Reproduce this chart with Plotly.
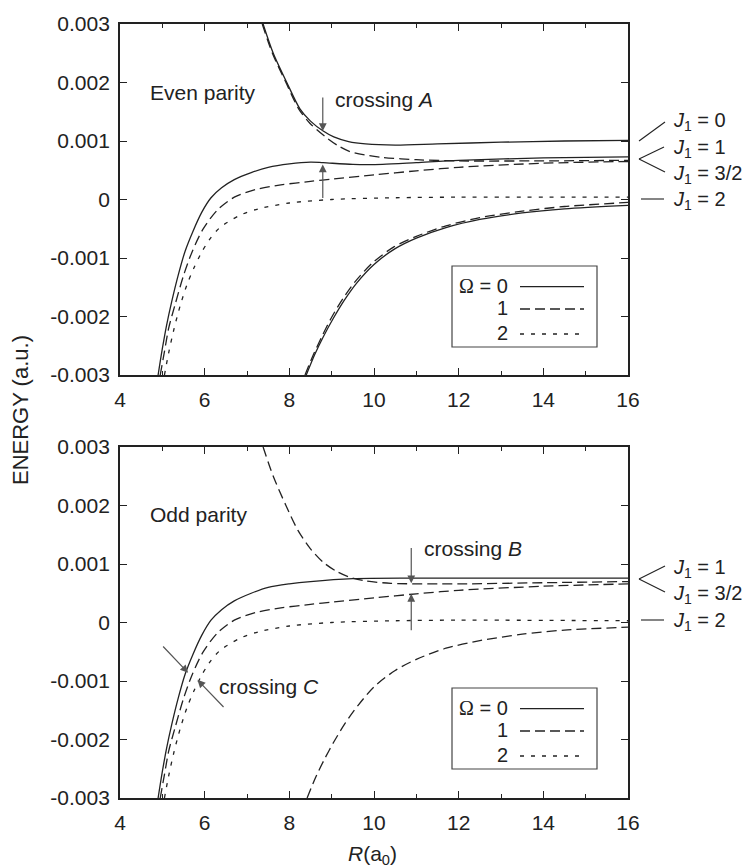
import plotly.graph_objects as go

# ---------------- data ----------------
# Even parity (top panel)
even_s_up_R = [7.38, 7.62, 7.94, 8.25, 8.5, 8.8, 9.05, 9.4, 9.8, 10.5, 11.5, 13.0, 14.5, 16.0]
even_s_up_E = [0.0030, 0.0025, 0.0020, 0.00155, 0.00134, 0.00117, 0.00107, 0.00099, 0.00095, 0.00093, 0.00095, 0.00098, 0.00100, 0.00101]

even_d_up_R = [7.36, 7.6, 7.92, 8.22, 8.49, 8.89, 9.15, 9.43, 9.8, 10.2, 11.0, 12.0, 14.0, 16.0]
even_d_up_E = [0.0030, 0.0025, 0.0020, 0.00155, 0.00130, 0.00105, 0.00092, 0.00082, 0.00076, 0.00072, 0.00068, 0.00066, 0.00066, 0.00067]

even_s_mid_R = [4.9, 5.0, 5.1, 5.22, 5.38, 5.54, 5.72, 5.93, 6.15, 6.4, 6.7, 7.1, 7.5, 8.0, 8.5, 8.8, 9.5, 10.2, 11.0, 12.0, 14.0, 16.0]
even_s_mid_E = [-0.0030, -0.00255, -0.00215, -0.00175, -0.00128, -0.00088, -0.00055, -0.00022, 0.00003, 0.0002, 0.00034, 0.00046, 0.00055, 0.00061, 0.00064, 0.00063, 0.00060, 0.00060, 0.00063, 0.00067, 0.00071, 0.00073]

even_d_mid_R = [4.95, 5.05, 5.15, 5.3, 5.5, 5.7, 5.95, 6.3, 6.7, 7.2, 7.8, 8.5, 9.0, 10.0, 11.0, 12.0, 14.0, 16.0]
even_d_mid_E = [-0.0030, -0.0026, -0.0022, -0.0018, -0.0013, -0.0009, -0.00052, -0.00018, 0.00004, 0.00017, 0.00025, 0.00031, 0.00035, 0.00042, 0.00049, 0.00055, 0.00062, 0.00065]

even_dot_R = [5.05, 5.15, 5.28, 5.42, 5.58, 5.74, 5.9, 6.1, 6.36, 6.83, 7.27, 8.0, 9.0, 10.5, 12.0, 16.0]
even_dot_E = [-0.0030, -0.00262, -0.0022, -0.00182, -0.00146, -0.00118, -0.00094, -0.0007, -0.00048, -0.00027, -0.00016, -0.00006, 0.0, 0.00003, 0.00004, 0.00004]

even_s_low_R = [8.4, 8.6, 8.8, 9.04, 9.3, 9.6, 10.0, 10.5, 11.0, 11.7, 12.5, 13.5, 14.5, 16.0]
even_s_low_E = [-0.0030, -0.00265, -0.00235, -0.00203, -0.00172, -0.00142, -0.00111, -0.00084, -0.00066, -0.00048, -0.00034, -0.00023, -0.00016, -0.00010]

even_d_low_R = [8.37, 8.57, 8.77, 9.01, 9.27, 9.57, 9.97, 10.47, 11.0, 11.7, 12.5, 13.5, 14.5, 16.0]
even_d_low_E = [-0.0030, -0.00265, -0.00234, -0.0020, -0.00169, -0.00139, -0.00108, -0.00081, -0.00063, -0.00045, -0.00031, -0.0002, -0.00012, -0.00005]

# Odd parity (bottom panel)
odd_d_up_R = [7.38, 7.62, 7.92, 8.2, 8.5, 8.8, 9.1, 9.4, 9.8, 10.4, 12.0, 14.0, 16.0]
odd_d_up_E = [0.0030, 0.0025, 0.0020, 0.00158, 0.00126, 0.00103, 0.00088, 0.00078, 0.00071, 0.00067, 0.00066, 0.00068, 0.00070]

odd_s_R = [4.9, 5.0, 5.1, 5.22, 5.38, 5.54, 5.72, 5.93, 6.15, 6.4, 6.7, 7.1, 7.5, 8.0, 8.5, 9.5, 11.0, 16.0]
odd_s_E = [-0.0030, -0.00255, -0.00215, -0.00175, -0.00128, -0.00088, -0.00055, -0.00022, 0.00004, 0.00022, 0.00037, 0.00050, 0.00060, 0.00066, 0.00070, 0.00075, 0.00076, 0.00076]

odd_d_mid_R = [4.95, 5.05, 5.15, 5.3, 5.5, 5.7, 5.95, 6.3, 6.7, 7.2, 7.8, 8.5, 9.0, 10.0, 11.0, 12.0, 14.0, 16.0]
odd_d_mid_E = [-0.0030, -0.0026, -0.0022, -0.0018, -0.0013, -0.0009, -0.00052, -0.00018, 0.00004, 0.00017, 0.00025, 0.00031, 0.00035, 0.00042, 0.00049, 0.00055, 0.00062, 0.00066]

odd_dot_R = [5.05, 5.15, 5.28, 5.42, 5.58, 5.74, 5.9, 6.1, 6.36, 6.83, 7.27, 8.0, 9.0, 10.5, 12.0, 16.0]
odd_dot_E = [-0.0030, -0.00262, -0.0022, -0.00182, -0.00146, -0.00118, -0.00094, -0.0007, -0.00048, -0.00027, -0.00016, -0.00006, 0.0, 0.00003, 0.00004, 0.00003]

odd_d_low_R = [8.42, 8.62, 8.82, 9.06, 9.32, 9.62, 10.0, 10.5, 11.0, 11.7, 12.5, 13.5, 14.5, 16.0]
odd_d_low_E = [-0.0030, -0.00265, -0.00235, -0.00203, -0.00172, -0.00142, -0.0011, -0.00082, -0.00063, -0.00044, -0.00031, -0.0002, -0.00013, -0.00008]

x_ticks = [4, 6, 8, 10, 12, 14, 16]
y_ticks = [-0.003, -0.002, -0.001, 0, 0.001, 0.002, 0.003]
y_tick_text = ["-0.003", "-0.002", "-0.001", "0", "0.001", "0.002", "0.003"]

legend_labels = ["<span style=\"font-family:'Liberation Serif',serif\">\u03A9</span> = 0", "1", "2"]
omega_dash = {0: "solid", 1: "10px,5px", 2: "4px,7px"}

j_labels_even = ["0", "1", "3/2", "2"]
j_labels_odd = ["1", "3/2", "2"]

# ---------------- figure ----------------
FONT = "Liberation Sans, Arial, Helvetica, sans-serif"
INK = "#222222"
FS = 21
fig = go.Figure()

def curve(R, E, omega, xa, ya):
    fig.add_trace(go.Scatter(x=R, y=E, mode="lines", xaxis=xa, yaxis=ya,
                             line=dict(color=INK, width=1.3, dash=omega_dash[omega],
                                       shape="spline", smoothing=0.8),
                             showlegend=False, hoverinfo="skip"))

curve(even_s_up_R, even_s_up_E, 0, "x", "y")
curve(even_d_up_R, even_d_up_E, 1, "x", "y")
curve(even_s_mid_R, even_s_mid_E, 0, "x", "y")
curve(even_d_mid_R, even_d_mid_E, 1, "x", "y")
curve(even_dot_R, even_dot_E, 2, "x", "y")
curve(even_s_low_R, even_s_low_E, 0, "x", "y")
curve(even_d_low_R, even_d_low_E, 1, "x", "y")

curve(odd_d_up_R, odd_d_up_E, 1, "x2", "y2")
curve(odd_s_R, odd_s_E, 0, "x2", "y2")
curve(odd_d_mid_R, odd_d_mid_E, 1, "x2", "y2")
curve(odd_dot_R, odd_dot_E, 2, "x2", "y2")
curve(odd_d_low_R, odd_d_low_E, 1, "x2", "y2")

W, H = 742, 867
ML, MR, MT, MB = 120, 114, 24, 69
PW = W - ML - MR
PH = H - MT - MB

def px_x(p):
    return (p - ML) / PW

def px_y(p):
    return (H - MB - p) / PH

xaxis_common = dict(range=[4, 16], tickvals=x_ticks, ticks="inside", ticklen=7, tickwidth=1.3,
                    tickcolor=INK, showline=True, linecolor=INK, linewidth=1.8, mirror="allticks",
                    showgrid=False, zeroline=False, tickfont=dict(size=FS, color=INK, family=FONT),
                    minor=dict(dtick=1, tick0=5, ticks="inside", ticklen=4, tickcolor=INK, tickwidth=1.3),
                    ticklabelstandoff=5)
yaxis_common = dict(range=[-0.003, 0.003], tickvals=y_ticks, ticktext=y_tick_text, ticks="inside",
                    ticklen=7, tickwidth=1.3, tickcolor=INK, showline=True, linecolor=INK, linewidth=1.8,
                    mirror="allticks", showgrid=False, zeroline=False,
                    tickfont=dict(size=FS, color=INK, family=FONT), ticklabelstandoff=4)

top_dom = [px_y(375), px_y(24)]
bot_dom = [px_y(798), px_y(447)]

fig.update_layout(
    width=W, height=H, margin=dict(l=ML, r=MR, t=MT, b=MB),
    paper_bgcolor="white", plot_bgcolor="white", showlegend=False,
    font=dict(family=FONT, color=INK, size=FS),
    xaxis=dict(domain=[0, 1], anchor="y", **xaxis_common),
    yaxis=dict(domain=top_dom, anchor="x", **yaxis_common),
    xaxis2=dict(domain=[0, 1], anchor="y2", **xaxis_common),
    yaxis2=dict(domain=bot_dom, anchor="x2", **yaxis_common),
)

ann = []
shapes = []

# Panel titles
ann.append(dict(x=4.66, y=0.00183, xref="x", yref="y", text="Even parity", showarrow=False,
                xanchor="left", yanchor="middle", font=dict(size=FS)))
ann.append(dict(x=4.66, y=0.00184, xref="x2", yref="y2", text="Odd parity", showarrow=False,
                xanchor="left", yanchor="middle", font=dict(size=FS)))

# crossing labels
ann.append(dict(x=9.04, y=0.00171, xref="x", yref="y", text="crossing <i>A</i>", showarrow=False,
                xanchor="left", yanchor="middle", font=dict(size=FS)))
ann.append(dict(x=11.13, y=0.00127, xref="x2", yref="y2", text="crossing <i>B</i>", showarrow=False,
                xanchor="left", yanchor="middle", font=dict(size=FS)))
ann.append(dict(x=6.30, y=-0.0011, xref="x2", yref="y2", text="crossing <i>C</i>", showarrow=False,
                xanchor="left", yanchor="middle", font=dict(size=FS)))

ARROW = "#555555"
def arrow(xr, yr, tip, tail):
    ann.append(dict(x=tip[0], y=tip[1], ax=tail[0], ay=tail[1], xref=xr, yref=yr, axref=xr, ayref=yr,
                    text="", showarrow=True, arrowhead=2, arrowsize=1.3, arrowwidth=1.2,
                    arrowcolor=ARROW, standoff=0))

arrow("x", "y", (8.79, 0.00117), (8.79, 0.00177))
arrow("x", "y", (8.79, 0.00060), (8.79, 0.0))
arrow("x2", "y2", (10.88, 0.00067), (10.88, 0.00130))
arrow("x2", "y2", (10.88, 0.00049), (10.88, -0.00016))
arrow("x2", "y2", (5.61, -0.00086), (4.985, -0.000385))
arrow("x2", "y2", (5.83, -0.00098), (6.48, -0.00147))

# Legends (drawn by hand so that the sample line sits right of the label)
for (ytop_px, ybot_px, rows_px) in [(266, 347, [285.7, 308.0, 333.0]), (688, 769, [707.7, 730.0, 755.0])]:
    shapes.append(dict(type="rect", xref="paper", yref="paper", x0=px_x(452), x1=px_x(597),
                       y0=px_y(ybot_px), y1=px_y(ytop_px), line=dict(color="#444444", width=1.2),
                       fillcolor="white", layer="above"))
    for k, lab in enumerate(legend_labels):
        ann.append(dict(x=px_x(510), y=px_y(rows_px[k]), xref="paper", yref="paper", text=lab,
                        showarrow=False, xanchor="right", yanchor="middle", font=dict(size=20)))
        shapes.append(dict(type="line", xref="paper", yref="paper", x0=px_x(520), x1=px_x(584),
                           y0=px_y(rows_px[k] + 1), y1=px_y(rows_px[k] + 1),
                           line=dict(color=INK, width=1.3, dash=omega_dash[k]), layer="above"))

# J1 labels on the right
def jlab(val, ypx):
    ann.append(dict(x=px_x(671), y=px_y(ypx), xref="paper", yref="paper",
                    text="<i>J</i><sub>1</sub> = " + val, showarrow=False,
                    xanchor="left", yanchor="middle", font=dict(size=20)))

def seg(x0, y0, x1, y1):
    shapes.append(dict(type="line", xref="paper", yref="paper", x0=px_x(x0), y0=px_y(y0),
                       x1=px_x(x1), y1=px_y(y1), line=dict(color=INK, width=1.1)))

for lab, ypx in zip(j_labels_even, [121, 148, 174, 201]):
    jlab(lab, ypx)
seg(639, 141, 665, 122)
seg(639, 159, 664, 147)
seg(639, 159, 665, 172)
seg(641, 199, 664, 199)

for lab, ypx in zip(j_labels_odd, [568, 594, 621]):
    jlab(lab, ypx)
seg(639, 579, 665, 566)
seg(639, 579, 665, 592)
seg(641, 620, 664, 620)

# axis titles
ann.append(dict(x=px_x(21), y=px_y(410), xref="paper", yref="paper", text="ENERGY (a.u.)",
                textangle=-90, showarrow=False, xanchor="center", yanchor="middle", font=dict(size=22)))
ann.append(dict(x=px_x(372), y=px_y(855), xref="paper", yref="paper", text="<i>R</i>(a<sub>0</sub>)",
                showarrow=False, xanchor="center", yanchor="middle", font=dict(size=FS)))

fig.update_layout(annotations=ann, shapes=shapes)
fig.write_html("out.html", config={"displayModeBar": False},
               post_script="document.body.style.margin='0px';document.body.style.padding='0px';"
                           "document.documentElement.style.overflow='hidden';")
